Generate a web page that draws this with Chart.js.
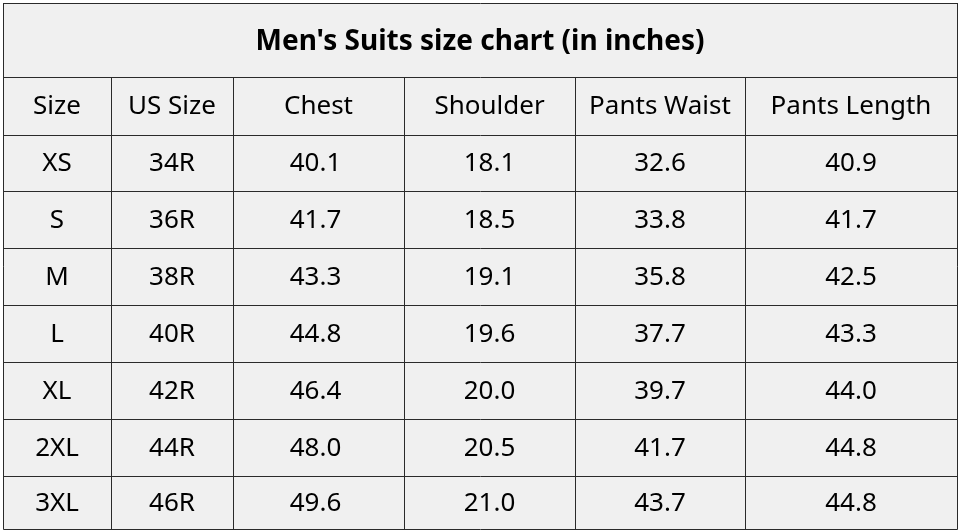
<!DOCTYPE html>
<html><head><meta charset="utf-8">
<script src="https://cdn.jsdelivr.net/npm/chart.js@4"></script>
<style>html,body{margin:0;padding:0;background:#fff}</style>
</head><body>
<canvas id="c" width="960" height="532"></canvas>
<script>
const title = "Men's Suits size chart (in inches)";
const headers = ["Size","US Size","Chest","Shoulder","Pants Waist","Pants Length"];
const sizes = ["XS","S","M","L","XL","2XL","3XL"];
const usSizes = ["34R","36R","38R","40R","42R","44R","46R"];
const chest = ["40.1","41.7","43.3","44.8","46.4","48.0","49.6"];
const shoulder = ["18.1","18.5","19.1","19.6","20.0","20.5","21.0"];
const pantsWaist = ["32.6","33.8","35.8","37.7","39.7","41.7","43.7"];
const pantsLength = ["40.9","41.7","42.5","43.3","44.0","44.8","44.8"];

const colX = [3,111,233,404,575,745,957];
const rowY = [3,77,135,191,248,305,362,419,476,529];

const tablePlugin = {
  id:'table',
  afterDraw(chart){
    const ctx = chart.ctx;
    ctx.save();
    ctx.fillStyle='#f0f0f0';
    ctx.fillRect(colX[0],rowY[0],colX[6]-colX[0],rowY[9]-rowY[0]);
    ctx.strokeStyle='#2a2a2a'; ctx.lineWidth=1;
    const L=colX[0]+0.5,R=colX[6]+0.5;
    rowY.forEach(y=>{ctx.beginPath();ctx.moveTo(L,y+0.5);ctx.lineTo(R,y+0.5);ctx.stroke();});
    colX.forEach((x,i)=>{const top=(i===0||i===6)?rowY[0]:rowY[1];ctx.beginPath();ctx.moveTo(x+0.5,top);ctx.lineTo(x+0.5,rowY[9]+0.5);ctx.stroke();});
    ctx.fillStyle='#000'; ctx.textAlign='center'; ctx.textBaseline='middle';
    ctx.font='bold 28px "Noto Sans", "Open Sans", sans-serif';
    ctx.fillText(title,(colX[0]+colX[6])/2,(rowY[0]+rowY[1])/2+2);
    ctx.font='26px "Noto Sans", "Open Sans", sans-serif';
    headers.forEach((h,i)=>ctx.fillText(h,(colX[i]+colX[i+1])/2,(rowY[1]+rowY[2])/2+1));
    const cols=[sizes,usSizes,chest,shoulder,pantsWaist,pantsLength];
    for(let r=0;r<sizes.length;r++){
      cols.forEach((c,i)=>{
        let cx=(colX[i]+colX[i+1])/2; if(i===2) cx-=3;
        ctx.fillText(c[r],cx,(rowY[r+2]+rowY[r+3])/2+1);
      });
    }
    ctx.restore();
  }
};

new Chart(document.getElementById('c'),{
  type:'bar',
  data:{labels:sizes,datasets:[{data:[],label:'t'}]},
  options:{responsive:false,devicePixelRatio:1,animation:false,
    plugins:{legend:{display:false},tooltip:{enabled:false}},
    scales:{x:{display:false},y:{display:false}}},
  plugins:[tablePlugin]
});
</script>
</body></html>
